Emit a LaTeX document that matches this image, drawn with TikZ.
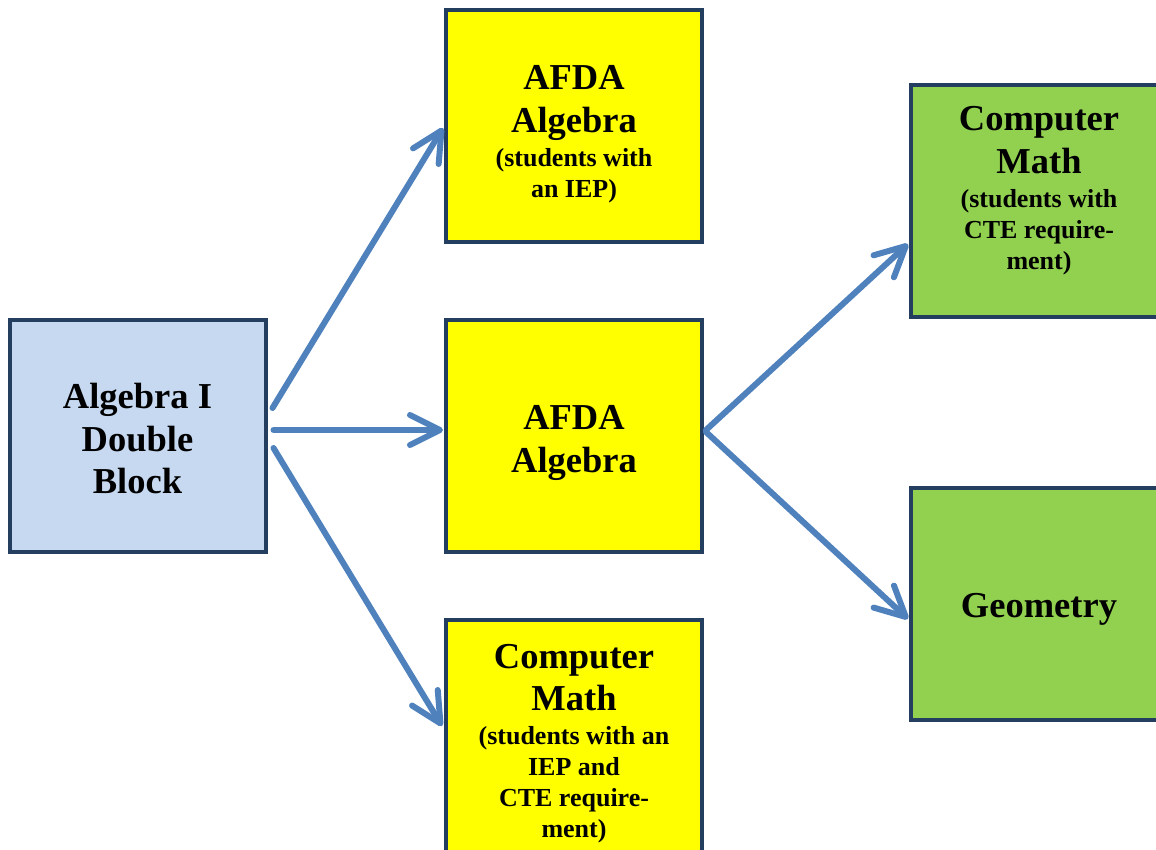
\documentclass[tikz,border=0pt]{standalone}
\usepackage{fontspec}
\setmainfont{Liberation Serif}
\usetikzlibrary{arrows.meta}
\definecolor{boxline}{RGB}{36,62,96}
\definecolor{lblue}{RGB}{198,217,241}
\definecolor{yel}{RGB}{255,255,0}
\definecolor{grn}{RGB}{146,208,80}
\definecolor{arr}{RGB}{79,129,189}
\newcommand{\bigtxt}{\fontsize{36.5}{42.5}\selectfont\bfseries}
\newcommand{\smtxt}{\par\vspace{3pt}\fontsize{26}{31}\selectfont\bfseries}
\newcommand{\boxtext}[2][0pt]{\parbox{250pt}{\centering\vspace*{#1}#2\par}}
\tikzset{
  box/.style={draw=boxline, line width=4pt, minimum width=256pt, minimum height=232pt, inner sep=0pt},
  txt/.style={inner sep=0pt},
  link/.style={draw=arr, line width=6pt, line cap=round, -{Straight Barb[length=30pt,width=30pt,round]}},
}
\begin{document}
\begin{tikzpicture}[x=1pt,y=-1pt]
\useasboundingbox (0,0) rectangle (1156,850);
\clip (0,0) rectangle (1156,850);
\node[box, fill=lblue] (L) at (137.5,436) {\boxtext[6pt]{\bigtxt Algebra I\\Double\\Block}};
\node[box, fill=yel] (T) at (574,126) {\boxtext[16pt]{\bigtxt AFDA\\Algebra\smtxt (students with\\an IEP)}};
\node[box, fill=yel] (M) at (574,436) {\boxtext[14pt]{\bigtxt AFDA\\Algebra}};
\node[box, fill=yel] (B) at (574,736) {\boxtext[15pt]{\bigtxt Computer\\Math\smtxt (students with an\\IEP and\\CTE require-\\ment)}};
\node[box, fill=grn] (GT) at (1039,201) {};
\node[txt] (GTt) at (1039,190.5) {\boxtext{\bigtxt Computer\\Math\smtxt (students with\\CTE require-\\ment)}};
\node[box, fill=grn] (GB) at (1039,604) {\boxtext[10pt]{\bigtxt Geometry}};
\draw[link] ([shift={(5,-28)}]L.east) -- ([shift={(-1,2)}]T.west);
\draw[link] ([shift={(6,-6)}]L.east) -- ([shift={(-1,-6)}]M.west);
\draw[link] ([shift={(6,12)}]L.east) -- ([shift={(-2,-10)}]B.west);
\draw[link] ([shift={(2,-6)}]M.east) -- ([shift={(-1,43)}]GT.west);
\draw[link] ([shift={(2,-4)}]M.east) -- ([shift={(-1,15)}]GB.west);
\end{tikzpicture}
\end{document}
